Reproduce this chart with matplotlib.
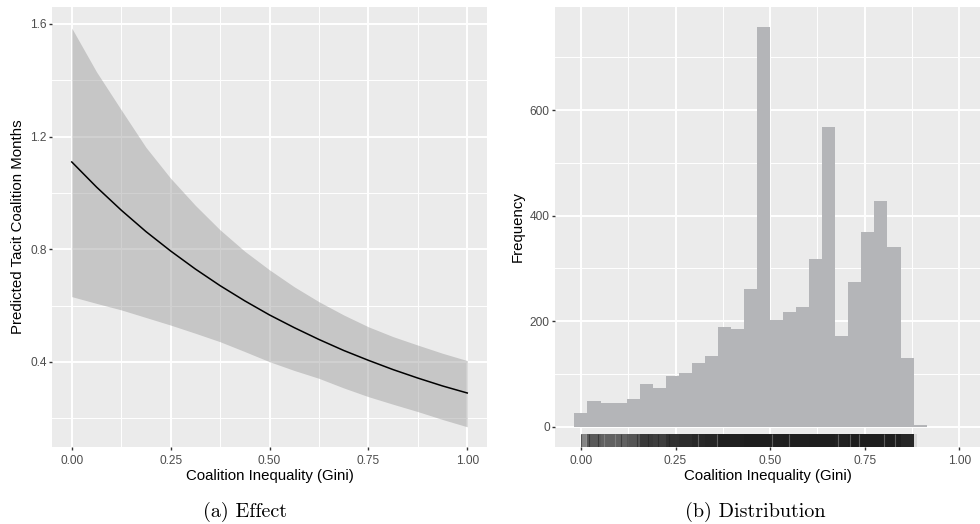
import numpy as np
import matplotlib
matplotlib.use("Agg")
import matplotlib.pyplot as plt
from matplotlib.ticker import MultipleLocator
import matplotlib.transforms as mtransforms

plt.rcParams['font.family'] = ['Liberation Sans', 'DejaVu Sans']

# panel (a): predicted effect with 95% band
gini = [0.0, 0.0625, 0.125, 0.1875, 0.25, 0.3125, 0.375, 0.4375, 0.5,
        0.5625, 0.625, 0.6875, 0.75, 0.8125, 0.875, 0.9375, 1.0]
fit = [1.110, 1.021, 0.939, 0.863, 0.794, 0.730, 0.671, 0.617, 0.567,
       0.522, 0.480, 0.441, 0.406, 0.373, 0.343, 0.315, 0.290]
lower = [0.632, 0.608, 0.585, 0.558, 0.531, 0.502, 0.472, 0.437, 0.401,
         0.370, 0.342, 0.308, 0.277, 0.250, 0.224, 0.196, 0.170]
upper = [1.585, 1.430, 1.295, 1.162, 1.052, 0.956, 0.869, 0.793, 0.727,
         0.667, 0.614, 0.567, 0.525, 0.490, 0.460, 0.431, 0.405]

# panel (b): histogram of gini, 30 bins
counts = [27, 49, 45, 45, 53, 81, 74, 97, 103, 122, 134, 189, 185, 262, 757,
          202, 217, 228, 318, 568, 172, 274, 369, 428, 340, 130, 4, 0, 0, 0]
rug_min, rug_max = 0.0, 0.889
rug_dark = [0.0, 0.021, 0.046, 0.105, 0.148, 0.178, 0.205, 0.232]
rug_light = [0.013, 0.06, 0.09, 0.31, 0.36, 0.505, 0.55, 0.68, 0.712, 0.735, 0.80, 0.83]

BG = '#ebebeb'
TXT = '#4d4d4d'


def style(ax):
    ax.set_facecolor(BG)
    for s in ax.spines.values():
        s.set_visible(False)
    ax.grid(True, which='major', color='white', lw=1.4)
    ax.grid(True, which='minor', color='white', lw=0.7)
    ax.set_axisbelow(True)
    ax.tick_params(which='major', length=2.2, width=1.0, color='#333333',
                   labelcolor=TXT, labelsize=8.6, pad=1.6)
    ax.tick_params(which='minor', length=0)
    ax.tick_params(axis='x', pad=3.2)
    ax.xaxis.set_major_locator(MultipleLocator(0.25))
    ax.xaxis.set_minor_locator(MultipleLocator(0.125))
    ax.xaxis.set_major_formatter(lambda v, p: f"{v:.2f}")


fig = plt.figure(figsize=(9.8, 5.24), dpi=100)
W, H = 980, 524

# ---- (a) Effect
ax1 = fig.add_axes([52 / W, (H - 447) / H, 435 / W, 440 / H])
style(ax1)
ax1.fill_between(gini, lower, upper, color='#999999', alpha=0.45, lw=0)
ax1.plot(gini, fit, color='black', lw=1.1)
ax1.set_xlim(-0.05, 1.05)
ax1.set_ylim(0.0983, 1.660)
ax1.yaxis.set_major_locator(MultipleLocator(0.4))
ax1.yaxis.set_minor_locator(MultipleLocator(0.2))
ax1.yaxis.set_major_formatter(lambda v, p: f"{v:.1f}")
ax1.set_xlabel("Coalition Inequality (Gini)", fontsize=10.8, color='black', labelpad=2)
ax1.set_ylabel("Predicted Tacit Coalition Months", fontsize=10.8, color='black', labelpad=4)

# ---- (b) Distribution
ax2 = fig.add_axes([555 / W, (H - 447) / H, 425 / W, 440 / H])
style(ax2)
bw = 1 / 29
centers = np.arange(len(counts)) * bw
ax2.bar(centers, counts, width=bw, color='#b4b5b8', lw=0)
ax2.set_xlim(-0.0686, 1.055)
ax2.set_ylim(-37.9, 795)
ax2.yaxis.set_major_locator(MultipleLocator(200))
ax2.yaxis.set_minor_locator(MultipleLocator(100))
ax2.yaxis.set_major_formatter(lambda v, p: f"{v:.0f}")
ax2.set_xlabel("Coalition Inequality (Gini)", fontsize=10.8, color='black', labelpad=2)
ax2.set_ylabel("Frequency", fontsize=10.8, color='black', labelpad=4)

# rug along the bottom, darkness from the bin counts
trans = mtransforms.blended_transform_factory(ax2.transData, ax2.transAxes)
for c, n in zip(centers, counts):
    if n == 0:
        continue
    lo = max(c - bw / 2, rug_min)
    hi = min(c + bw / 2, rug_max)
    a = 1 - np.exp(-n / 40)
    ax2.add_patch(plt.Rectangle((lo, 0), hi - lo, 0.03, transform=trans,
                                color='#1e1e1e', alpha=a, lw=0))
ax2.vlines(rug_dark, 0, 0.03, transform=trans, color='#1e1e1e', alpha=0.5, lw=0.8)
ax2.vlines(rug_light, 0, 0.03, transform=trans, color='#9a9a9a', alpha=0.5, lw=0.8)

# captions
fig.text(245 / W, 1 - 512 / H, "(a) Effect", ha='center', va='center',
         fontfamily='cmr10', fontsize=14.5)
fig.text(755 / W, 1 - 512 / H, "(b) Distribution", ha='center', va='center',
         fontfamily='cmr10', fontsize=14.5)

plt.savefig("out.png", dpi=100)
